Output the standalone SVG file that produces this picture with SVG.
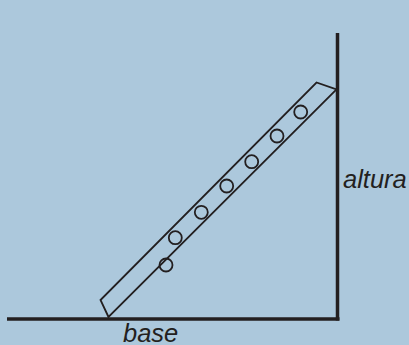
<svg xmlns="http://www.w3.org/2000/svg" width="409" height="345" viewBox="0 0 409 345">
<style>
.thick{stroke:#231f20;stroke-width:3.5;fill:none}
.thin{stroke:#231f20;stroke-width:1.8;fill:none;stroke-linejoin:miter}
.lbl{font-family:"Liberation Sans",Arial,sans-serif;font-style:italic;font-size:25.5px;fill:#231f20}
</style>
<rect width="409" height="345" fill="#acc8dc"/>
<g id="ground">
<line class="thick" x1="7" y1="319" x2="339.5" y2="319"/>
</g>
<g id="wall">
<line class="thick" x1="337.5" y1="33" x2="337.5" y2="320.5"/>
</g>
<g id="ladder">
<polygon class="thin" points="108.5,317 100.5,300 316.5,82.5 336.5,89.5"/>
<g class="thin">
<circle cx="166" cy="265" r="6.5"/>
<circle cx="175.3" cy="237.7" r="6.5"/>
<circle cx="201.3" cy="212.3" r="6.5"/>
<circle cx="226.7" cy="186" r="6.5"/>
<circle cx="251.7" cy="161.7" r="6.5"/>
<circle cx="277" cy="136" r="6.5"/>
<circle cx="300.7" cy="112" r="6.5"/>
</g>
</g>
<text class="lbl" x="343" y="188">altura</text>
<text class="lbl" x="123" y="341.5">base</text>
</svg>
